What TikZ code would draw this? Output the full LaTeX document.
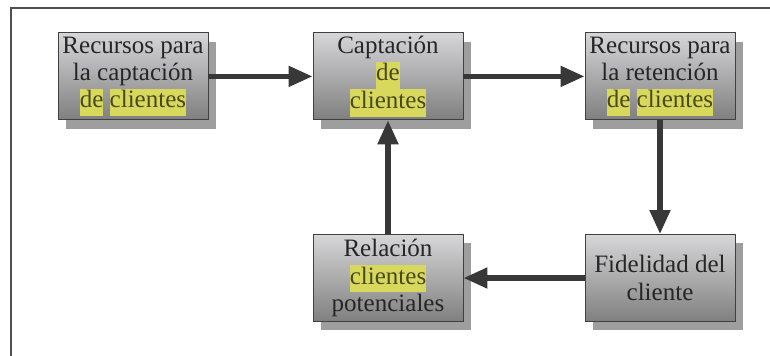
\documentclass[tikz,border=0pt]{standalone}
\usepackage{fontspec}
\setmainfont{Liberation Serif}
\usetikzlibrary{arrows.meta,shadows}

\definecolor{resalte}{HTML}{D8D85C}
\definecolor{textoresalte}{HTML}{4A4A22}
\definecolor{flecha}{HTML}{383838}
\definecolor{marco}{HTML}{505050}

\newcommand{\resaltado}[1]{{\setlength{\fboxsep}{0pt}\colorbox{resalte}{\color{textoresalte}\strut #1}}}

\begin{document}
\begin{tikzpicture}[
    bloque/.style = {draw = black!75, line width = 0.7pt, rectangle,
      minimum width = 3.75cm, minimum height = 2.175cm, inner sep = 0pt,
      top color = blue!6!black!16, bottom color = black!50,
      general shadow = {fill = black!38, shadow xshift = 0.2cm, shadow yshift = -0.225cm},
      align = center, text = black!85,
      font = \fontsize{17.8}{19.5}\selectfont},
    flechagruesa/.style = {-{Triangle[length = 0.6cm, width = 0.5cm]}, line width = 3.6pt, draw = flecha}
  ]
      \useasboundingbox (0, 0) rectangle (19.25, 8.9);
      \draw [marco, line width = 1.1pt] (0.275, 0) -- (0.275, 8.7) -- (19.25, 8.7);

      \node (recursos_captacion) [bloque] at (3.325, 6.99) {Recursos para\\la captación\\\resaltado{de} \resaltado{clientes}};
      \node (captacion) [bloque] at (9.7, 6.99) {Captación\\\resaltado{de}\\\resaltado{clientes}};
      \node (recursos_retencion) [bloque] at (16.5, 6.99) {Recursos para\\la retención\\\resaltado{de} \resaltado{clientes}};
      \node (fidelidad) [bloque] at (16.5, 1.95) {Fidelidad del\\cliente};
      \node (relacion) [bloque] at (9.7, 1.95) {Relación\\\resaltado{clientes}\\potenciales};

      \draw [flechagruesa] (recursos_captacion) -- (captacion);
      \draw [flechagruesa] (captacion) -- (recursos_retencion);
      \draw [flechagruesa] (recursos_retencion) -- (fidelidad);
      \draw [flechagruesa] (fidelidad) -- (relacion);
      \draw [flechagruesa] (relacion) -- (captacion);
    \end{tikzpicture}
\end{document}
